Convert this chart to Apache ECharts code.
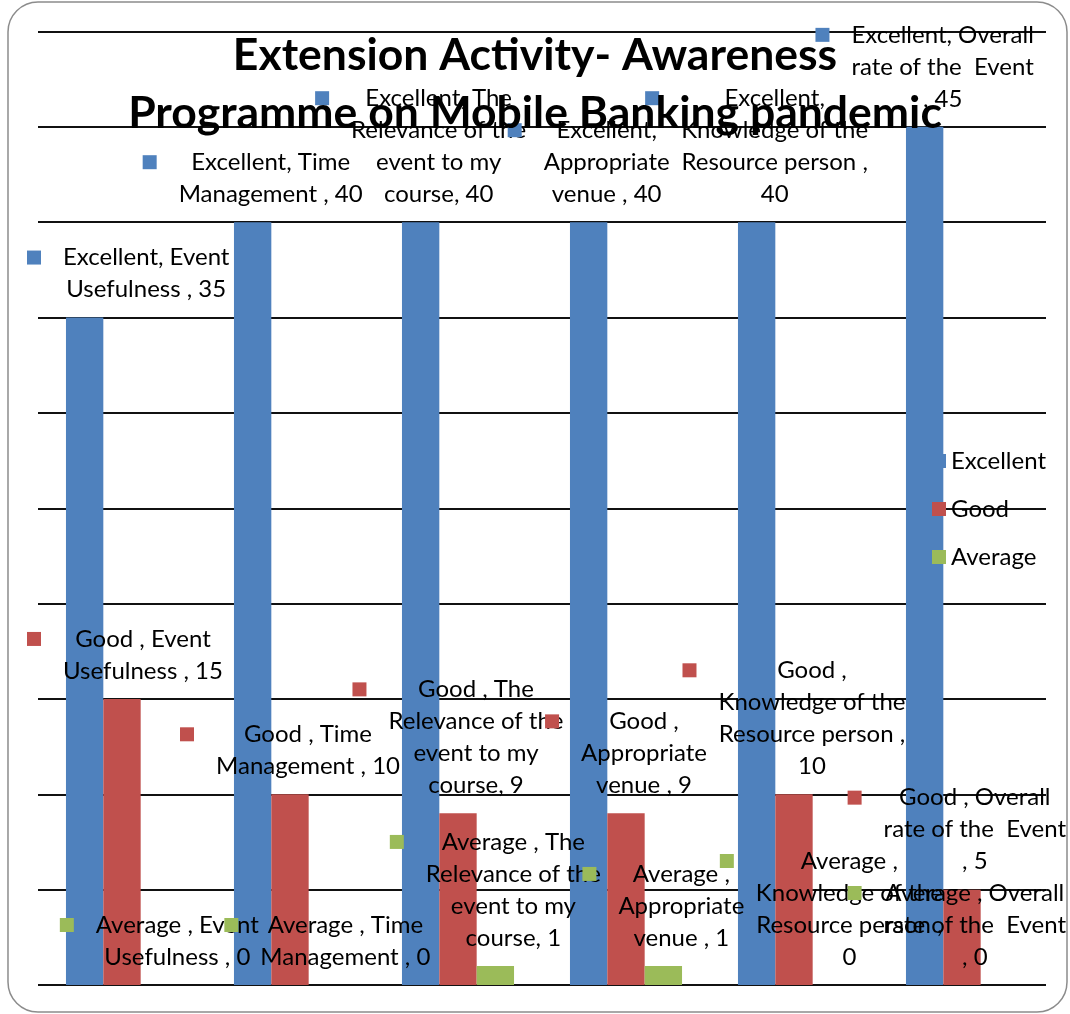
<!DOCTYPE html>
<html>
<head>
<meta charset="utf-8">
<script src="https://cdn.jsdelivr.net/npm/echarts@6/dist/echarts.min.js"></script>
<style>
  html, body { margin: 0; padding: 0; background: #fff; }
  #main { width: 1070px; height: 1014px; }
</style>
</head>
<body>
<div id="main"></div>
<script>
// data
var categories = ['Event Usefulness ', 'Time Management ', 'The Relevance of the event to my course',
    'Appropriate venue ', 'Knowledge of the Resource person ', 'Overall rate of the  Event '];
var seriesNames = ['Excellent', 'Good ', 'Average '];
var excellent = [35, 40, 40, 40, 40, 45];
var good = [15, 10, 9, 9, 10, 5];
var average = [0, 0, 1, 1, 0, 0];

// how excel wrapped each data label (%s = series, %v = value)
var labelWraps = [
    '%s, Event\nUsefulness , %v',
    '%s, Time\nManagement , %v',
    '%s, The\nRelevance of the\nevent to my\ncourse, %v',
    '%s,\nAppropriate\nvenue , %v',
    '%s,\nKnowledge of the\nResource person ,\n%v',
    '%s, Overall\nrate of the  Event\n, %v'
];

var colors = ['#4F81BD', '#C0504D', '#9BBB59'];
var FONT = 'Lato';
var LBL = 24;

var chart = echarts.init(document.getElementById('main'));

function makeSeries(idx, values) {
    var rich = {
        k: { width: 14, height: 14, backgroundColor: colors[idx], align: 'left' },
        g: { width: 22, height: 14, align: 'left' },
        p: { width: 36, height: 14, align: 'left' },
        t: { fontFamily: FONT, fontSize: LBL, lineHeight: 32, color: '#000' }
    };
    return {
        name: seriesNames[idx],
        type: 'bar',
        data: values,
        barGap: '0%',
        barCategoryGap: '33.3%',
        itemStyle: { color: colors[idx] },
        label: {
            show: true,
            position: 'top',
            distance: 12,
            lineHeight: 32,
            fontFamily: FONT,
            fontSize: LBL,
            color: '#000',
            rich: rich,
            formatter: function (p) {
                var txt = labelWraps[p.dataIndex].replace('%s', p.seriesName).replace('%v', p.value);
                var lines = txt.split('\n');
                return lines.map(function (l, i) {
                    return (i === 0 ? '{k|}{g|}' : '{p|}') + '{t|' + l + '}';
                }).join('\n');
            }
        },
        // keep labels inside the chart box like excel does
        labelLayout: function (p) {
            var r = p.labelRect;
            var dx = 0;
            if (r.x < 27) dx = 27 - r.x;
            else if (r.x + r.width > 1066) dx = 1066 - r.x - r.width;
            return { dx: dx };
        }
    };
}

var option = {
    animation: false,
    title: {
        text: 'Extension Activity- Awareness\nProgramme on Mobile Banking pandemic',
        left: 'center',
        top: 27,
        padding: 0,
        textStyle: { fontFamily: FONT, fontWeight: 'bold', fontSize: 44.5, lineHeight: 58, color: '#000' }
    },
    legend: {
        orient: 'vertical',
        left: 927,
        top: 444,
        itemWidth: 14,
        itemHeight: 14,
        itemGap: 24,
        icon: 'rect',
        data: seriesNames,
        textStyle: { fontFamily: FONT, fontSize: LBL, lineHeight: 24, color: '#000' }
    },
    grid: { left: 38, right: 24, top: 31.5, bottom: 29 },
    xAxis: {
        type: 'category',
        data: categories,
        axisLine: { show: false },
        axisTick: { show: false },
        axisLabel: { show: false }
    },
    yAxis: {
        type: 'value',
        min: 0,
        max: 50,
        interval: 5,
        axisLabel: { show: false },
        axisLine: { show: false },
        axisTick: { show: false },
        splitLine: { lineStyle: { color: '#111', width: 2 } }
    },
    graphic: [{
        type: 'rect',
        shape: { x: 8, y: 2, width: 1059, height: 1010, r: 30 },
        style: { fill: 'none', stroke: '#8c8c8c', lineWidth: 1.5 },
        silent: true
    }],
    series: [
        makeSeries(0, excellent),
        makeSeries(1, good),
        makeSeries(2, average)
    ]
};

chart.setOption(option);
</script>
</body>
</html>
